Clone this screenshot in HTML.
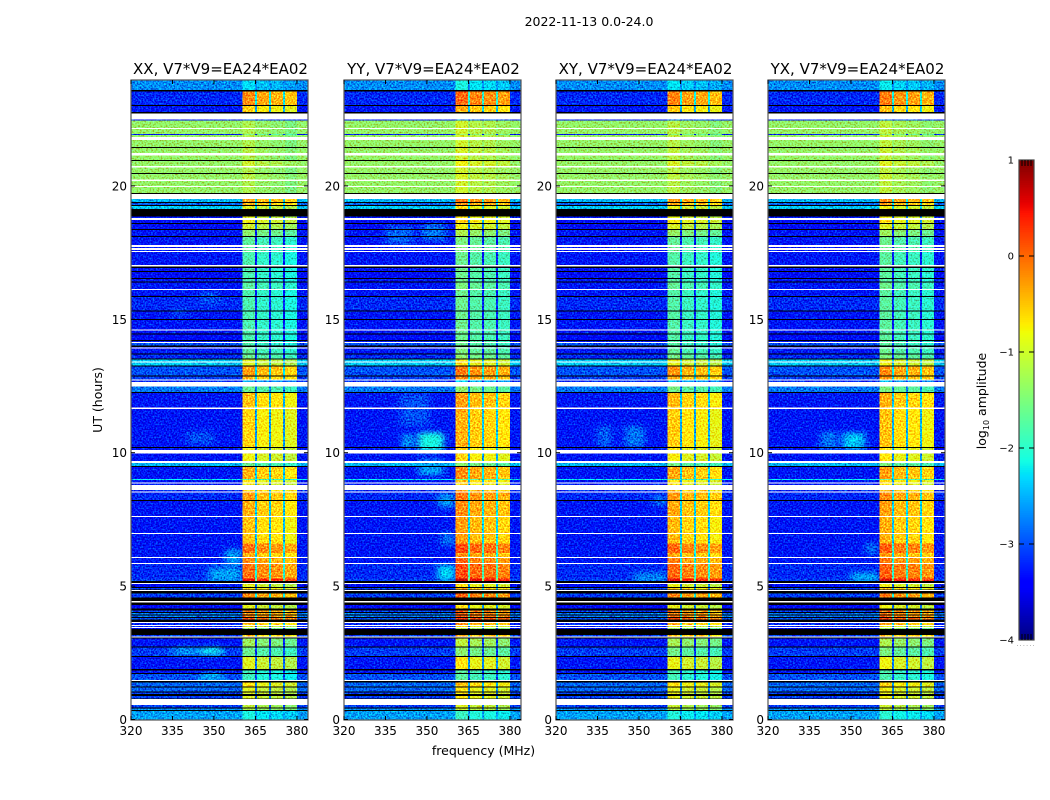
<!DOCTYPE html>
<html lang="en">
<head>
<meta charset="utf-8">
<title>2022-11-13 0.0-24.0</title>
<style>
html,body{margin:0;padding:0;background:#fff;width:1050px;height:800px;overflow:hidden}
svg{display:block}
text{font-family:"DejaVu Sans","Liberation Sans",sans-serif;fill:#000}
</style>
</head>
<body>
<svg id="chart" xmlns="http://www.w3.org/2000/svg" width="1050" height="800" viewBox="0 0 1050 800">
  <defs>
    <filter id="grain" filterUnits="objectBoundingBox" x="0" y="0" width="1" height="1" color-interpolation-filters="sRGB">
      <feTurbulence type="fractalNoise" baseFrequency="0.62" numOctaves="1" seed="7" result="n"/>
      <feColorMatrix in="n" type="matrix" values="0 0 0 0 0.5  1.6 0 0 0 -0.3  1.2 0 0 0 -0.1  0 0 0 0 1" result="m"/>
      <feComposite in="SourceGraphic" in2="m" operator="arithmetic" k1="0" k2="1" k3="0.9" k4="-0.45"/>
    </filter>
    <filter id="soft" x="-100%" y="-150%" width="300%" height="400%"><feGaussianBlur stdDeviation="4 3"/></filter>
  </defs>
  <text x="589" y="26" font-size="12.5" text-anchor="middle">2022-11-13 0.0-24.0</text>
  <text x="483.5" y="755" font-size="12.5" text-anchor="middle">frequency (MHz)</text>
  <text x="0" y="0" font-size="12.5" text-anchor="middle" transform="translate(102 400) rotate(-90)">UT (hours)</text>
  <text x="0" y="0" font-size="12.5" text-anchor="middle" transform="translate(986 401) rotate(-90)">log<tspan font-size="8" dy="3">10</tspan><tspan dy="-3"> amplitude</tspan></text>
  <g id="panels"></g>
  <g id="colorbar"></g>
  <text x="1026" y="646" font-size="7" text-anchor="middle" style="fill:#999;letter-spacing:1px">......</text>
</svg>
<script>
const W = null;
const K = -99;

const panelTitles = ["XX, V7*V9=EA24*EA02", "YY, V7*V9=EA24*EA02", "XY, V7*V9=EA24*EA02", "YX, V7*V9=EA24*EA02"];
const freqTicks = [320, 335, 350, 365, 380];
const hourTicks = [0, 5, 10, 15, 20];
const colorbarTicks = [1, 0, -1, -2, -3, -4];
const colorbarLabels = ["1", "0", "\u22121", "\u22122", "\u22123", "\u22124"];

const bandEdges = [[360.4, 364.9], [365.6, 369.9], [370.6, 374.9], [375.6, 380]];
const panelBandLift = [0, 0.2, 0.05, 0.1];
const segmentLift = [0.1, -0.05, -0.1, -0.2];

const rowEndHour = [
23.59,23.54,23.03,22.99,22.77,22.71,22.49,22.45,22.17,22.13,
21.94,21.91,21.83,21.72,21.46,21.42,21.23,21.14,20.97,20.93,
20.74,20.69,20.48,20.45,20.24,20.18,20.00,19.96,19.73,19.70,
19.51,19.40,19.36,19.28,19.25,19.13,18.85,18.80,18.72,18.61,
18.57,18.38,18.35,18.12,18.09,17.78,17.71,17.67,17.60,17.56,
17.52,17.03,16.98,16.92,16.81,16.77,16.55,16.51,16.42,16.38,
16.13,16.10,15.87,15.84,15.33,15.29,15.01,14.97,14.62,14.58,
14.47,14.43,14.22,14.18,14.15,14.11,14.02,13.96,13.94,13.90,
13.72,13.68,13.53,13.49,13.42,13.38,13.27,13.23,12.89,12.86,
12.74,12.71,12.65,12.48,12.27,12.24,11.69,11.64,10.21,10.18,
10.10,9.97,9.69,9.61,9.50,9.46,9.01,8.98,8.88,8.85,
8.79,8.60,8.55,8.51,8.23,8.19,7.63,7.59,6.99,6.95,
6.60,6.25,6.09,6.05,5.87,5.83,5.28,5.19,5.12,5.08,
4.97,4.93,4.87,4.85,4.82,4.72,4.57,4.44,4.39,4.29,
4.16,4.09,4.03,3.99,3.94,3.90,3.84,3.80,3.75,3.65,
3.62,3.54,3.50,3.47,3.43,3.39,3.17,3.11,3.07,3.04,
2.74,2.70,2.38,2.34,1.89,1.84,1.74,1.70,1.48,1.44,
1.39,1.24,1.20,1.05,1.01,0.96,0.88,0.79,0.77,0.54,
0.45,0.41,0.36,0.32,0
];

const rowBackground = [
-2.7,K,-3.2,K,-3.3,K,W,-3.4,-1.35,W,
-1.35,-3.3,-1.35,W,-1.35,K,-1.35,W,-1.35,K,
-1.35,W,-1.35,K,-1.35,W,-1.35,W,-1.35,K,
W,-2.5,K,-2.9,K,-2.4,K,-3.3,W,-3.4,
K,-3.4,K,-3.3,K,-3.3,W,-3.3,W,-3.3,
W,-3.3,W,K,-3.3,K,-3.4,K,-3.3,K,
-3.3,W,-3.3,K,-3.2,K,-3.3,K,-3.3,W,
-3.3,K,-3.4,K,-3.3,W,-3.0,K,-3.3,W,
-3.3,K,-3.2,K,-2.4,W,-2.4,K,-3.0,K,
-3.1,W,-3.2,W,-2.8,K,-3.3,W,-3.3,K,
-3.3,W,-3.3,W,-2.5,K,-3.3,-2.2,-3.3,W,
-3.3,W,-3.2,W,-3.2,K,-3.3,W,-3.3,W,
-3.3,-3.3,-3.3,W,-3.3,W,-3.2,-3.1,K,W,
-3.4,K,-3.1,K,W,K,-3.1,K,W,K,
-3.4,K,-3.1,K,-2.8,K,-2.8,K,-3.0,K,
W,-3.2,W,-3.2,W,-3.5,K,-3.1,W,K,
-3.3,K,-3.1,K,-3.3,K,-3.3,K,-3.0,W,
K,-2.9,K,-2.9,K,-3.1,K,-3.1,K,W,
-3.1,K,-2.7,K,-2.6
];

const rowBand = [
-2.4,K,-0.3,K,-0.7,K,W,-3.0,-1.3,W,
-1.3,-1.6,-1.25,W,-1.3,K,-1.25,W,-1.3,K,
-1.1,W,-1.3,K,-1.25,W,-1.3,W,-1.3,K,
W,-0.4,K,-0.5,K,-1.0,K,-1.0,W,-0.9,
K,-1.1,K,-1.5,K,-1.8,W,-1.8,W,-1.8,
W,-1.9,W,K,-1.9,K,-1.9,K,-1.9,K,
-1.8,W,-1.9,K,-1.9,K,-1.9,K,-1.9,W,
-1.9,K,-1.9,K,-1.9,W,-1.9,K,-1.9,W,
-1.8,K,-1.7,K,-1.0,W,-1.0,K,-0.4,K,
-0.5,W,-2.6,W,-1.7,K,-0.6,W,-0.7,K,
-0.9,W,-0.9,W,-1.7,K,-0.5,-1.8,-0.8,W,
-0.9,W,-0.6,W,-0.4,K,-0.5,W,-0.6,W,
-0.6,-0.15,-0.5,W,-0.3,W,-0.15,0.4,K,W,
-1.0,K,-0.7,K,W,K,-0.3,K,W,K,
-1.0,K,-0.3,K,-0.3,K,-0.2,K,0,K,
W,-0.5,W,-1.0,W,-1.5,K,-0.6,W,K,
-1.4,K,-1.7,K,-1.0,K,-2.0,K,-2.0,W,
K,-0.8,K,-1.0,K,-1.0,K,-1.0,K,W,
-1.2,K,-1.3,K,-2.2
];

const blobPanel = [0,0,0,0,0,0,0,0, 1,1,1,1,1,1,1,1,1, 2,2,2,2, 3,3,3,3];
const blobHourLow = [2.42,2.42,1.48,5.15,5.8,15.55,15.1,10.3, 10.15,10.05,11,9.15,5.2,6.5,7.95,17.8,17.95, 5.15,10.2,10.2,8.0, 10.1,10.1,5.15,6.2];
const blobHourHigh = [2.7,2.7,1.72,5.7,6.4,16.05,15.4,10.8, 10.7,10.75,12.2,9.75,5.8,7.0,8.45,18.5,18.6, 5.5,11.0,11.0,8.4, 10.75,10.8,5.5,6.6];
const blobFreqLow = [335,345,345,348,354,345,335,340, 341,347,340,347,354,355,354,335,348, 348,345,335,355, 347,339,350,355];
const blobFreqHigh = [344,353,353,360,360,352,340,350, 345,356,351,356,360,360,360,345,357, 360,352,340,360, 355,345,360,360];
const blobValue = [-2.6,-2.2,-2.4,-2.6,-2.6,-3.0,-3.0,-3.0, -2.6,-2.1,-3.0,-2.6,-2.3,-2.8,-2.6,-2.9,-2.8, -2.7,-2.8,-2.9,-2.8, -2.4,-2.8,-2.5,-2.8];

const GAP_DROP = 1.9;
const PANEL_LEFT = [131, 344, 556, 768];
const AXIS = {w: 177, top: 80, bottom: 720, f0: 320, f1: 384, yZero: 719.5, pxPerHour: 26.68};
const SVGNS = "http://www.w3.org/2000/svg";

const jetR = [[0,0],[0.35,0],[0.66,1],[0.89,1],[1,0.5]];
const jetG = [[0,0],[0.125,0],[0.375,1],[0.64,1],[0.91,0],[1,0]];
const jetB = [[0,0.5],[0.11,1],[0.34,1],[0.65,0],[1,0]];

function channel(points, t){
  for(let i = 1; i < points.length; i++){
    if(t <= points[i][0]){
      const a = points[i-1], b = points[i];
      return a[1] + (b[1]-a[1]) * (t-a[0]) / (b[0]-a[0]);
    }
  }
  return points[points.length-1][1];
}
function colorOf(v){
  if(v === W) return "#ffffff";
  if(v === K) return "#000000";
  const t = Math.max(0, Math.min(1, (v+4)/5));
  return "rgb(" + Math.round(255*channel(jetR,t)) + "," + Math.round(255*channel(jetG,t)) + "," + Math.round(255*channel(jetB,t)) + ")";
}
function xScale(left, f){ return left + (f-AXIS.f0) * AXIS.w / (AXIS.f1-AXIS.f0); }
function yScale(h){ return AXIS.yZero - h*AXIS.pxPerHour; }

function rect(parent, x, y, w, h, fill, name){
  const el = document.createElementNS(SVGNS, "rect");
  el.setAttribute("x", x.toFixed(2));
  el.setAttribute("y", y.toFixed(2));
  el.setAttribute("width", Math.max(0,w).toFixed(2));
  el.setAttribute("height", Math.max(0,h).toFixed(2));
  el.setAttribute("fill", fill);
  
  
  parent.appendChild(el);
  return el;
}
function line(parent, x1, y1, x2, y2, stroke, sw, name){
  const el = document.createElementNS(SVGNS, "line");
  el.setAttribute("x1", x1); el.setAttribute("y1", y1);
  el.setAttribute("x2", x2); el.setAttribute("y2", y2);
  el.setAttribute("stroke", stroke);
  el.setAttribute("stroke-width", sw);
  
  
  parent.appendChild(el);
  return el;
}
function label(parent, x, y, str, size, anchor, name){
  const el = document.createElementNS(SVGNS, "text");
  el.setAttribute("x", x); el.setAttribute("y", y);
  el.setAttribute("font-size", size);
  el.setAttribute("text-anchor", anchor);
  el.textContent = str;
  
  
  parent.appendChild(el);
  return el;
}
function group(parent, name){
  const el = document.createElementNS(SVGNS, "g");
  
  
  parent.appendChild(el);
  return el;
}

function drawPanel(p){
  const left = PANEL_LEFT[p];
  const root = group(document.getElementById("panels"), "panel-" + (p+1));
  const heat = group(root, "heatmap");
  heat.setAttribute("filter", "url(#grain)");
  heat.setAttribute("shape-rendering", "crispEdges");
  const bgLayer = group(heat, "background-cells");
  const blobLayer = group(heat, "rfi-blobs");
  blobLayer.setAttribute("filter", "url(#soft)");
  const bandLayer = group(heat, "band-cells");
  const flagLayer = group(root, "flagged-rows");
  flagLayer.setAttribute("shape-rendering", "crispEdges");

  let top = 24;
  rowEndHour.forEach(function(end, i){
    const y0 = Math.max(yScale(top), AXIS.top), y1 = Math.min(yScale(end), AXIS.bottom);
    const h = y1 - y0;
    const bg = rowBackground[i], band = rowBand[i];
    top = end;
    if(bg === W || bg === K){
      rect(flagLayer, left, y0, AXIS.w, h, colorOf(bg), bg === W ? "flagged-row-white" : "flagged-row-black");
      return;
    }
    rect(bgLayer, left, y0, AXIS.w, h, colorOf(bg), "cell-background");
    const lift = panelBandLift[p];
    bandEdges.forEach(function(seg, s){
      const xa = xScale(left, seg[0]), xb = xScale(left, seg[1]);
      rect(bandLayer, xa, y0, xb-xa, h, colorOf(band + lift + segmentLift[s]), "cell-band");
      if(s < bandEdges.length-1){
        const xn = xScale(left, bandEdges[s+1][0]);
        rect(bandLayer, xb, y0, xn-xb, h, colorOf(Math.max(bg, band + lift - GAP_DROP)), "cell-band-gap");
      }
    });
  });

  blobPanel.forEach(function(owner, b){
    if(owner !== p) return;
    const xa = xScale(left, blobFreqLow[b]), xb = xScale(left, blobFreqHigh[b]);
    const ya = yScale(blobHourHigh[b]), yb = yScale(blobHourLow[b]);
    rect(blobLayer, xa, ya, xb-xa, yb-ya, colorOf(blobValue[b]), "cell-blob");
  });

  const axes = group(root, "axes");
  const frame = rect(axes, left, AXIS.top, AXIS.w, AXIS.bottom-AXIS.top, "none", "axes-frame");
  frame.setAttribute("stroke", "#555");
  frame.setAttribute("stroke-width", "1.2");
  freqTicks.forEach(function(f){
    const x = xScale(left, f);
    line(axes, x, AXIS.bottom, x, AXIS.bottom-4, "#000", 1, "x-tick");
    line(axes, x, AXIS.top, x, AXIS.top+4, "#000", 1, "x-tick-top");
    label(axes, x, 735, String(f), 12, "middle", "x-tick-label");
  });
  hourTicks.forEach(function(h){
    const y = yScale(h);
    line(axes, left, y, left+4, y, "#000", 1, "y-tick");
    line(axes, left+AXIS.w, y, left+AXIS.w-4, y, "#000", 1, "y-tick-right");
    label(axes, left-4, y+4.5, String(h), 12, "end", "y-tick-label");
  });
  label(root, left+AXIS.w/2+1, 74, panelTitles[p], 15, "middle", "panel-title");
}
PANEL_LEFT.forEach(function(_, p){ drawPanel(p); });

function drawColorbar(){
  const root = document.getElementById("colorbar");
  const xL = 1019, w = 15;
  const cbY = function(v){ return 640 - (v+4)*96; };
  const ramp = group(root, "colorbar-ramp");
  ramp.setAttribute("shape-rendering", "crispEdges");
  for(let i = 0; i < 256; i++){
    const v0 = -4 + 5*i/256, v1 = -4 + 5*(i+1)/256;
    rect(ramp, xL, cbY(v1), w, cbY(v0)-cbY(v1)+0.5, colorOf((v0+v1)/2), "colorbar-step");
  }
  const frame = rect(root, xL, 160, w, 480, "none", "colorbar-frame");
  frame.setAttribute("stroke", "#444");
  frame.setAttribute("stroke-width", "1.2");
  colorbarTicks.forEach(function(v, i){
    const y = cbY(v);
    if(v !== 1 && v !== -4){
      line(root, xL, y, xL+5, y, "#000", 1, "colorbar-tick");
      line(root, xL+w-5, y, xL+w, y, "#000", 1, "colorbar-tick");
    }
    label(root, 1014, y+3.5, colorbarLabels[i], 10, "end", "colorbar-tick-label");
  });
  [3, 6, 9, 12].forEach(function(dx){
    line(root, xL+dx, 160, xL+dx, 166, "#000", 1, "colorbar-end-tick");
    line(root, xL+dx, 640, xL+dx, 634, "#000", 1, "colorbar-end-tick");
  });
}
drawColorbar();
</script>
</body>
</html>
